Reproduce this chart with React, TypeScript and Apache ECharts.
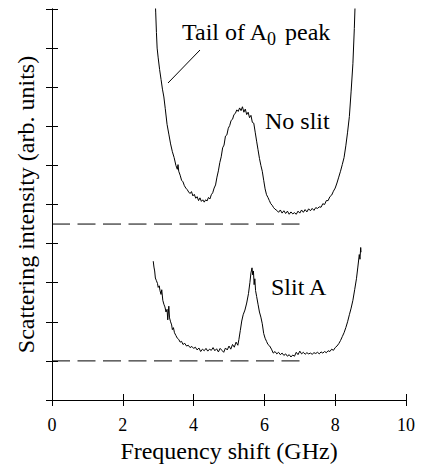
import React, { useEffect, useRef } from "react";
import * as echarts from "echarts";

const xTicks = [0, 2, 4, 6, 8, 10];

const noSlitX = [
  2.9, 2.93, 2.95, 2.97, 3.0, 3.04, 3.08, 3.12, 3.16, 3.2, 3.25, 3.3, 3.35, 3.4, 3.45, 3.5, 3.54, 3.56, 3.58,
  3.62, 3.66, 3.7, 3.74, 3.78, 3.82, 3.86, 3.9, 3.94, 3.98, 4.02, 4.06, 4.1, 4.14, 4.18, 4.22, 4.26, 4.3,
  4.34, 4.38, 4.42, 4.46, 4.5, 4.54, 4.58, 4.62, 4.66, 4.7, 4.74, 4.78, 4.82, 4.86, 4.9, 4.94, 4.98, 5.02,
  5.06, 5.1, 5.14, 5.18, 5.22, 5.26, 5.3, 5.34, 5.38, 5.42, 5.46, 5.5, 5.54, 5.58, 5.62, 5.66, 5.7, 5.74,
  5.78, 5.82, 5.86, 5.9, 5.94, 5.98, 6.02, 6.06, 6.1, 6.14, 6.18, 6.22, 6.26, 6.3, 6.35, 6.4, 6.45, 6.5,
  6.55, 6.6, 6.65, 6.7, 6.75, 6.8, 6.85, 6.9, 6.95, 7.0, 7.05, 7.1, 7.15, 7.2, 7.25, 7.3, 7.35, 7.4, 7.45,
  7.5, 7.55, 7.6, 7.65, 7.7, 7.75, 7.8, 7.85, 7.9, 7.95, 8.0, 8.05, 8.1, 8.15, 8.2, 8.25, 8.3, 8.35, 8.4,
  8.45, 8.5, 8.54, 8.58,
];
const noSlitY = [
  10.6, 9.9, 9.4, 9.0, 8.75, 8.45, 8.2, 7.95, 7.75, 7.45, 7.05, 6.8, 6.55, 6.35, 6.2, 6.0, 5.9, 6.02, 5.85,
  5.75, 5.62, 5.58, 5.48, 5.42, 5.38, 5.32, 5.28, 5.33, 5.22, 5.26, 5.16, 5.2, 5.1, 5.17, 5.08, 5.12, 5.06,
  5.12, 5.09, 5.18, 5.14, 5.25, 5.3, 5.42, 5.5, 5.7, 5.86, 6.07, 6.22, 6.45, 6.52, 6.75, 6.78, 6.95, 7.02,
  7.15, 7.18, 7.3, 7.33, 7.42, 7.38, 7.47, 7.4, 7.5, 7.36, 7.44, 7.3, 7.36, 7.22, 7.28, 7.1, 7.08, 6.85,
  6.62, 6.4, 6.18, 6.0, 5.85, 5.62, 5.4, 5.25, 5.18, 5.1, 5.02, 4.98, 4.92, 4.88, 4.85, 4.8, 4.86, 4.78,
  4.84, 4.77, 4.83, 4.75, 4.81, 4.76, 4.79, 4.75, 4.83, 4.78, 4.86, 4.8, 4.87, 4.81, 4.89, 4.84, 4.9, 4.85, 4.92,
  4.9, 4.94, 4.93, 5.02, 5.0, 5.1, 5.1, 5.2, 5.24, 5.34, 5.42, 5.55, 5.7, 5.85, 6.02, 6.2, 6.5, 6.85, 7.25,
  7.9, 8.6, 9.5, 10.6,
];

const slitAX = [
  2.86, 2.88, 2.9, 2.92, 2.95, 2.98, 3.0, 3.03, 3.05, 3.08, 3.1, 3.13, 3.16, 3.19, 3.22, 3.25, 3.27, 3.3,
  3.32, 3.35, 3.38, 3.4, 3.43, 3.46, 3.5, 3.54, 3.58, 3.62, 3.66, 3.7, 3.75, 3.8, 3.85, 3.9, 3.95, 4.0, 4.05,
  4.1, 4.15, 4.2, 4.25, 4.3, 4.35, 4.4, 4.45, 4.5, 4.55, 4.6, 4.65, 4.7, 4.75, 4.8, 4.85, 4.9, 4.95, 5.0,
  5.05, 5.1, 5.15, 5.2, 5.25, 5.28, 5.32, 5.36, 5.4, 5.45, 5.5, 5.55, 5.59, 5.62, 5.65, 5.67, 5.69, 5.71,
  5.73, 5.75, 5.78, 5.82, 5.86, 5.9, 5.94, 5.98, 6.02, 6.06, 6.1, 6.15, 6.2, 6.25, 6.3, 6.35, 6.4, 6.45, 6.5,
  6.55, 6.6, 6.65, 6.7, 6.75, 6.8, 6.85, 6.9, 6.95, 7.0, 7.05, 7.1, 7.15, 7.2, 7.25, 7.3, 7.35, 7.4, 7.45,
  7.5, 7.55, 7.6, 7.65, 7.7, 7.75, 7.8, 7.85, 7.9, 7.95, 8.0, 8.05, 8.1, 8.15, 8.2, 8.25, 8.3, 8.35, 8.4,
  8.45, 8.5, 8.55, 8.6, 8.64, 8.68, 8.7, 8.72, 8.73,
];
const slitAY = [
  3.55, 3.4, 3.3, 3.12, 3.05, 2.98, 2.88, 2.92, 2.8, 2.7, 2.82, 2.55, 2.45, 2.38, 2.25, 2.32, 2.05, 2.4,
  2.1, 2.0, 1.92, 1.8, 1.85, 1.72, 1.65, 1.58, 1.55, 1.48, 1.5, 1.42, 1.45, 1.38, 1.4, 1.34, 1.37, 1.32, 1.35,
  1.28, 1.33, 1.24, 1.3, 1.26, 1.32, 1.25, 1.3, 1.27, 1.34, 1.26, 1.31, 1.23, 1.32, 1.27, 1.22, 1.33, 1.28,
  1.38, 1.3, 1.42, 1.35, 1.48, 1.4, 1.55, 1.78, 2.02, 2.18, 2.3, 2.48, 2.72, 3.0, 3.25, 3.38, 3.2, 3.3, 2.95,
  3.1, 2.8, 2.65, 2.45, 2.25, 2.12, 1.95, 1.7, 1.58, 1.5, 1.42, 1.38, 1.3, 1.2, 1.24, 1.18, 1.22, 1.16, 1.2,
  1.14, 1.18, 1.12, 1.16, 1.1, 1.15, 1.12, 1.22, 1.16, 1.25, 1.18, 1.22, 1.17, 1.21, 1.18, 1.2, 1.17, 1.21,
  1.19, 1.22, 1.18, 1.23, 1.2, 1.24, 1.21, 1.26, 1.24, 1.3, 1.27, 1.34, 1.38, 1.44, 1.52, 1.62, 1.72, 1.85,
  2.0, 2.18, 2.35, 2.55, 2.82, 3.1, 3.4, 3.72, 3.6, 3.9, 3.78,
];

const baselineX = [0, 7.0];
const noSlitBase = 4.5;
const slitABase = 1.0;

const FONT = "serif";

export default function App() {
  const ref = useRef<HTMLDivElement>(null);

  useEffect(() => {
    if (!ref.current) return;
    const chart = echarts.init(ref.current, undefined, { renderer: "svg" });
    const pairs = (xs: number[], ys: number[]) => xs.map((x, i) => [x, ys[i]]);
    const axisLine = { show: true, lineStyle: { color: "#000", width: 1 } };
    const tick = { show: true, inside: true, length: 6, lineStyle: { color: "#000", width: 1 } };
    const lineSeries = (data: number[][], dashed = false) => ({
      type: "line",
      data,
      showSymbol: false,
      symbol: "none",
      clip: true,
      silent: true,
      lineStyle: { color: "#000", width: 1, type: dashed ? [18, 7.5] : "solid" },
    });
    const text = (t: string, x: number, y: number, size = 24) => ({
      type: "text",
      x,
      y,
      silent: true,
      style: { text: t, fontSize: size, fontFamily: FONT, fill: "#000", align: "left", verticalAlign: "middle" },
    });

    chart.setOption({
      animation: false,
      backgroundColor: "#fff",
      textStyle: { fontFamily: FONT },
      grid: { left: 52, right: 23, top: 9, bottom: 72, containLabel: false },
      xAxis: [
        {
          type: "value",
          min: 0,
          max: 10,
          interval: 2,
          position: "bottom",
          name: "Frequency shift (GHz)",
          nameLocation: "middle",
          nameGap: 34,
          nameTextStyle: { fontSize: 24, fontFamily: FONT, color: "#000" },
          axisLine,
          axisTick: tick,
          axisLabel: {
            fontSize: 18,
            fontFamily: FONT,
            color: "#000",
            margin: 16,
            formatter: (v: number) => (xTicks.includes(v) ? String(v) : ""),
          },
          splitLine: { show: false },
        },
        {
          type: "value",
          min: 0,
          max: 10,
          interval: 2,
          position: "top",
          axisLine,
          axisTick: tick,
          axisLabel: { show: false },
          splitLine: { show: false },
        },
      ],
      yAxis: [
        {
          type: "value",
          min: 0,
          max: 10,
          interval: 1,
          position: "left",
          name: "Scattering intensity (arb. units)",
          nameLocation: "middle",
          nameGap: 14,
          nameTextStyle: { fontSize: 24, fontFamily: FONT, color: "#000" },
          axisLine,
          axisTick: tick,
          axisLabel: { show: false },
          splitLine: { show: false },
        },
        {
          type: "value",
          min: 0,
          max: 10,
          interval: 1,
          position: "right",
          axisLine,
          axisTick: tick,
          axisLabel: { show: false },
          splitLine: { show: false },
        },
      ],
      series: [
        lineSeries(pairs(noSlitX, noSlitY)),
        lineSeries(pairs(slitAX, slitAY)),
        lineSeries(baselineX.map((x) => [x, noSlitBase]), true),
        lineSeries(baselineX.map((x) => [x, slitABase]), true),
      ],
      graphic: [
        text("Tail of A", 182, 32),
        text("0", 267, 39, 18),
        text("peak", 285, 32),
        {
          type: "line",
          silent: true,
          shape: { x1: 200, y1: 50, x2: 168, y2: 83 },
          style: { stroke: "#000", lineWidth: 1 },
        },
        text("No slit", 265, 121),
        text("Slit A", 271, 287),
      ],
    });
    return () => chart.dispose();
  }, []);

  return (
    <div
      ref={ref}
      style={{ position: "fixed", left: 0, top: 0, width: 429, height: 472, background: "#fff" }}
    />
  );
}
